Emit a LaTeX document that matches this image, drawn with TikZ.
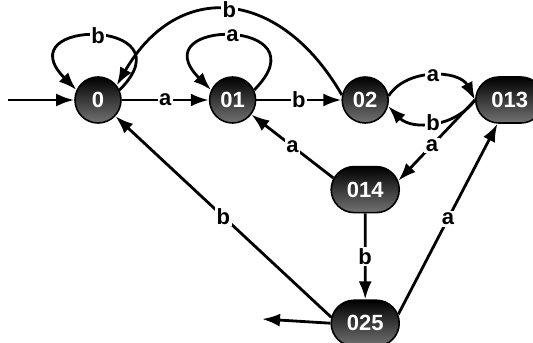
\documentclass[tikz,border=0pt]{standalone}
\usepackage{fontspec}
\setmainfont{Liberation Sans}
\usetikzlibrary{arrows.meta, shapes.misc, positioning}

\begin{document}
\begin{tikzpicture}[
            x=0.5pt, y=-0.5pt,
            cnode/.style={circle, draw=black, thick, top color=black, bottom color=black!55, minimum size=23pt, inner sep=0pt, text=white, font=\fontsize{11}{13}\selectfont\bfseries},
            rnode/.style={rounded rectangle, draw=black, thick, top color=black, bottom color=black!55, minimum width=34pt, minimum height=23pt, inner sep=0pt, text=white, font=\fontsize{11}{13}\selectfont\bfseries},
            arrow/.style={-{Latex[length=9pt,width=6.5pt]}, line width=1.4pt, black},
            lbl/.style={fill=white, inner sep=0.8pt, font=\fontsize{11}{13}\selectfont\bfseries}
        ]
            \useasboundingbox (0,0) rectangle (533,342);

            \node[cnode] (s0) at (98,100) {0};
            \node[cnode, right=43.5pt of s0] (s01) {01};
            \node[cnode, right=42.5pt of s01] (s02) {02};
            \node[rnode, right=43pt of s02] (s013) {013};
            \node[rnode, below=21pt of s02] (s014) {014};
            \node[rnode, below=43pt of s014] (s025) {025};
            \coordinate (start) at (8,100);
            \coordinate (exit) at (262,319);

            \draw[arrow] (start) -- (s0);
            \draw[arrow] (s0.25) .. controls +(45:51pt) and +(135:51pt) .. (s0.155) node[lbl, pos=0.5] {b};
            \draw[arrow] (s0) -- node[lbl] {a} (s01);
            \draw[arrow] (s01.25) .. controls +(45:51pt) and +(135:51pt) .. (s01.155) node[lbl, pos=0.5] {a};
            \draw[arrow] (s01) -- node[lbl] {b} (s02);
            \draw[arrow] (s02.168) to[out=120, in=60, looseness=1.4] node[lbl] {b} (s0.38);

            \draw[arrow] (s02.10) to[bend left=60] node[lbl] {a} (s013.west);
            \draw[arrow] (s013.west) to[bend left=50] node[lbl] {b} (s02.-15);
            \draw[arrow] (s013.west) -- node[lbl, pos=0.56] {a} (s014.15);
            \draw[arrow] (s014.160) -- node[lbl] {a} (s01);
            \draw[arrow] (s014) -- node[lbl] {b} (s025);
            \draw[arrow] (s025.15) -- node[lbl] {a} (s013);
            \draw[arrow] (s025.170) -- node[lbl] {b} (s0);
            \draw[arrow] (s025.west) -- (exit);
        \end{tikzpicture}
\end{document}
